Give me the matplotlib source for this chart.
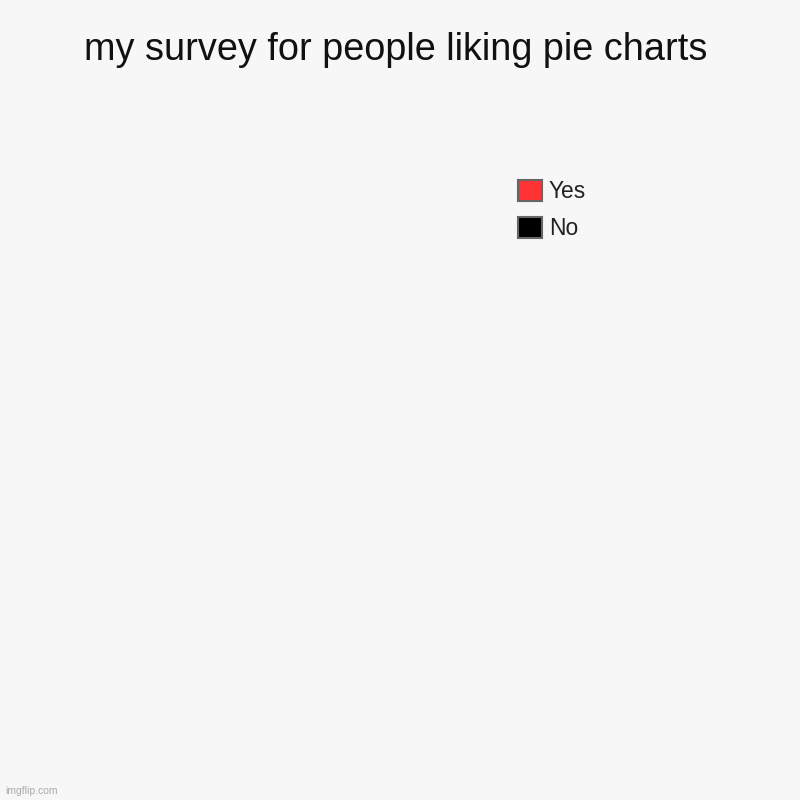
import matplotlib.pyplot as plt
from matplotlib.patches import Patch

# Survey data (no answers yet, so the pie is empty)
categories = ['Yes', 'No']
values = [0, 0]
colors = ['#ff3333', '#000000']

plt.rcParams['font.family'] = ['Liberation Sans', 'DejaVu Sans']

fig = plt.figure(figsize=(8, 8), dpi=100, facecolor='#f7f7f7')
ax = fig.add_axes([0.1, 0.05, 0.55, 0.8])
ax.set_facecolor('#f7f7f7')
ax.axis('off')

# only draw the pie if there is something to draw
if sum(values) > 0:
    ax.pie(values, colors=colors, startangle=90, counterclock=False)
ax.set_aspect('equal')

fig.text(0.494, 0.937, 'my survey for people liking pie charts',
         ha='center', va='center', fontsize=27.3, color='#111111')

handles = [Patch(facecolor=c, edgecolor='#666666', linewidth=1.5) for c in colors]
fig.legend(handles, categories, loc='upper left', bbox_to_anchor=(0.6475, 0.775),
           frameon=False, fontsize=16.4, borderpad=0, borderaxespad=0,
           handlelength=1.05, handleheight=1.05, handletextpad=0.3,
           labelspacing=0.6, labelcolor='#222222')

fig.text(0.006, 0.011, 'imgflip.com', ha='left', va='center', fontsize=7.5,
         color='#aaaaaa')

fig.savefig('out.png', dpi=100, facecolor=fig.get_facecolor())
